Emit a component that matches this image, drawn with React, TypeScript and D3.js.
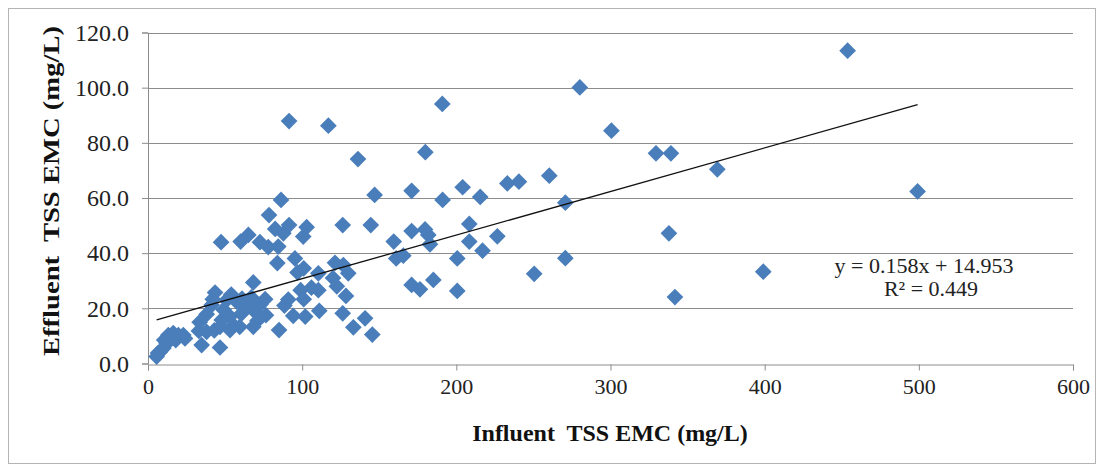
import React, { useEffect, useRef } from 'react';
import * as d3 from 'd3';

// influent / effluent TSS event mean concentrations (mg/L)
const influent = [
  5.6, 6.5, 7.8, 9.9, 12.1, 14.3, 16.4, 19.7, 22.9, 13.2, 16.4, 24, 10.5, 18,
  34.8, 46.7, 33, 33.5, 38.1, 41.3, 42, 43.5, 38, 43, 46.7, 47.8, 49, 51, 54, 53.2,
  55.3, 53.2, 60.5, 62, 59.5, 61, 67, 66.2, 69.4, 71, 68.3, 73, 76, 76.5, 57.5, 68.3,
  88.5, 91, 101, 94.2, 102, 85, 99, 106, 110.5, 97, 101, 110.5, 111.1, 126.3, 140.8,
  133.2, 145.5, 121.3, 126.7, 129.9, 120, 122.5, 128.4, 83.9, 95.3,
  78.5, 91.5, 102.9, 82.5, 87.8, 65.1, 60.1, 47.4, 72.6, 78, 84.5, 100.7, 86.3,
  91.5, 117, 136.2, 179.9, 190.9, 147, 171, 191.1, 204.1, 215.5, 233.1, 240.6, 260.3,
  280.1, 300.6, 329.5, 339.2, 369.3, 453.8, 499.2, 270.7, 226.6, 337.9, 217, 270.7,
  250.5, 399.1, 341.8, 208.4, 208.4, 171, 179.7, 181.8, 182.9, 159.4, 161, 165.6,
  200.6, 185.1, 171, 176.4, 200.6, 126.3, 144.5,
];
const effluent = [
  2.5, 3.8, 4.3, 5.5, 7.3, 8.5, 9.7, 10.3, 10.3, 10.3, 11, 9.1, 8.5, 8.5,
  6.7, 5.8, 11.8, 15, 17.9, 21.2, 23.3, 25.7, 11.5, 12, 13.3, 15.8, 19.5, 23, 25, 12.1,
  14, 17, 18, 20.5, 13.3, 23.5, 24, 21.8, 18.8, 15.5, 13.3, 21.5, 23.3, 17.5, 22.4, 29.4,
  21, 23.2, 23.3, 17.3, 17, 12.1, 26.6, 27.5, 26.6, 33, 34.5, 32.7, 19.1, 18.2, 16.4,
  13.1, 10.5, 36.5, 35.7, 32.7, 31, 28, 24.5, 36.4, 38.1,
  53.8, 50.2, 49.4, 48.8, 47.2, 46.6, 44.2, 44, 44, 42.2, 42.4, 46, 59.3,
  87.9, 86.2, 74.1, 76.6, 94.1, 61.1, 62.6, 59.3, 63.9, 60.4, 65.3, 65.9, 68.1,
  100.1, 84.4, 76.2, 76.2, 70.4, 113.4, 62.4, 58.3, 46.1, 47.2, 40.9, 38.2,
  32.5, 33.3, 24.1, 50.6, 44.2, 48, 48.6, 46.6, 43.2, 44.2, 38.1, 39.1,
  38.1, 30.3, 28.5, 26.9, 26.3, 50.2, 50.2,
];

const xTicks = [0, 100, 200, 300, 400, 500, 600];
const yTicks = [0, 20, 40, 60, 80, 100, 120];

const slope = 0.158;
const intercept = 14.953;
const equationLabel = 'y = 0.158x + 14.953';
const r2Label = 'R² = 0.449';

const xTitle = 'Influent  TSS EMC (mg/L)';
const yTitle = 'Effluent  TSS EMC (mg/L)';

const serif = '"Liberation Serif", "Times New Roman", serif';

const App = () => {
  const svgRef = useRef<SVGSVGElement>(null);

  useEffect(() => {
    const svg = d3.select(svgRef.current);
    svg.selectAll('*').remove();

    const x = d3.scaleLinear().domain([0, 600]).range([148, 1073]);
    const y = d3.scaleLinear().domain([0, 120]).range([363.5, 32.5]);
    const points = influent.map((v, i) => ({ x: v, y: effluent[i] }));

    // chart border
    svg.append('rect')
      .attr('x', 8.5)
      .attr('y', 8.5)
      .attr('width', 1087)
      .attr('height', 455)
      .attr('fill', '#fff')
      .attr('stroke', '#b4b4b4');

    // horizontal gridlines
    svg.append('g')
      .selectAll('line')
      .data(yTicks.filter((t) => t > 0))
      .enter()
      .append('line')
      .attr('x1', x(0))
      .attr('x2', x(600))
      .attr('y1', (d) => Math.round(y(d)) + 0.5)
      .attr('y2', (d) => Math.round(y(d)) + 0.5)
      .attr('stroke', '#8c8c8c');

    // y axis
    const yAxis = d3.axisLeft(y)
      .tickValues(yTicks)
      .tickSize(6)
      .tickPadding(13)
      .tickFormat(d3.format('.1f'));
    const gy = svg.append('g')
      .attr('transform', `translate(${x(0)},0)`)
      .call(yAxis);
    gy.select('.domain').attr('stroke', '#8c8c8c');
    gy.selectAll('.tick line').attr('stroke', '#8c8c8c');
    gy.selectAll('.tick text')
      .attr('font-family', serif)
      .attr('font-size', 24)
      .attr('fill', '#222');

    // x axis
    const xAxis = d3.axisBottom(x)
      .tickValues(xTicks)
      .tickSize(6)
      .tickPadding(8)
      .tickFormat(d3.format('d'));
    const gx = svg.append('g')
      .attr('transform', `translate(0,${Math.round(y(0)) + 0.5})`)
      .call(xAxis);
    gx.select('.domain').attr('stroke', '#8c8c8c');
    gx.selectAll('.tick line').attr('stroke', '#8c8c8c');
    gx.selectAll('.tick text')
      .attr('font-family', serif)
      .attr('font-size', 22)
      .attr('fill', '#222');

    // markers
    const diamond = d3.symbol().type(d3.symbolSquare).size(140);
    svg.append('g')
      .selectAll('path')
      .data(points)
      .enter()
      .append('path')
      .attr('d', diamond)
      .attr('transform', (d) => `translate(${x(d.x)},${y(d.y)}) rotate(45)`)
      .attr('fill', '#4a7ebb');

    // linear trendline
    const [xMin, xMax] = d3.extent(influent) as [number, number];
    svg.append('line')
      .attr('x1', x(xMin))
      .attr('y1', y(slope * xMin + intercept))
      .attr('x2', x(xMax))
      .attr('y2', y(slope * xMax + intercept))
      .attr('stroke', '#111')
      .attr('stroke-width', 1.3);

    svg.append('text')
      .attr('x', 924)
      .attr('y', 273)
      .attr('text-anchor', 'middle')
      .attr('font-family', serif)
      .attr('font-size', 22)
      .attr('fill', '#222')
      .text(equationLabel);
    svg.append('text')
      .attr('x', 931)
      .attr('y', 296)
      .attr('text-anchor', 'middle')
      .attr('font-family', serif)
      .attr('font-size', 22)
      .attr('fill', '#222')
      .text(r2Label);

    // axis titles
    svg.append('text')
      .attr('x', 610)
      .attr('y', 441)
      .attr('text-anchor', 'middle')
      .attr('font-family', serif)
      .attr('font-size', 24)
      .attr('font-weight', 'bold')
      .style('white-space', 'pre')
      .attr('fill', '#111')
      .text(xTitle);
    svg.append('text')
      .attr('transform', 'translate(59,191) rotate(-90)')
      .attr('text-anchor', 'middle')
      .attr('font-family', serif)
      .attr('font-size', 24)
      .attr('font-weight', 'bold')
      .style('white-space', 'pre')
      .attr('textLength', 330)
      .attr('lengthAdjust', 'spacingAndGlyphs')
      .attr('fill', '#111')
      .text(yTitle);
  }, []);

  return (
    <svg
      ref={svgRef}
      width={1103}
      height={466}
      style={{ position: 'absolute', left: 0, top: 0 }}
    />
  );
};

export default App;
